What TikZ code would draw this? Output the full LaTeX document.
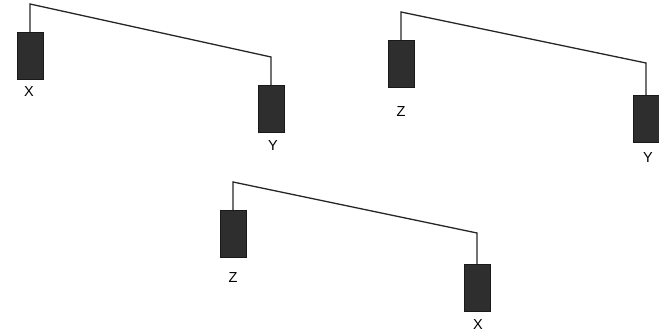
\documentclass[tikz,border=0pt]{standalone}
\usepackage{fontspec}
\setmainfont{Liberation Sans}
\begin{document}
\begin{tikzpicture}[x=1pt,y=-1pt,
  weight/.style={draw=black!90,fill=black!82,line width=0.8pt,minimum width=26pt,minimum height=47pt,inner sep=0pt,anchor=north},
  lab/.style={font=\fontsize{14.5}{16}\selectfont,inner sep=0pt},
  beam/.style={line width=1.3pt,black!85}]
\useasboundingbox (0,0) rectangle (659,334);
% figure 1
\node[weight] (x1) at (30,32) {};
\node[weight] (y1) at (271,85) {};
\node[lab] (lx1) at (29,92) {X};
\node[lab] (ly1) at (273,146) {Y};
\coordinate (a1) at (30,4);
\coordinate (b1) at (271,57);
\draw[beam] (x1.north) -- (a1) -- (b1) -- (y1.north);
% figure 2
\node[weight] (z2) at (401,40) {};
\node[weight] (y2) at (646,95) {};
\node[lab] (lz2) at (401,112) {Z};
\node[lab] (ly2) at (648,158) {Y};
\coordinate (a2) at (401,12);
\coordinate (b2) at (646,63);
\draw[beam] (z2.north) -- (a2) -- (b2) -- (y2.north);
% figure 3
\node[weight] (z3) at (233,210) {};
\node[weight] (x3) at (477,264) {};
\node[lab] (lz3) at (233,278) {Z};
\node[lab] (lx3) at (478,325) {X};
\coordinate (a3) at (233,182);
\coordinate (b3) at (477,233);
\draw[beam] (z3.north) -- (a3) -- (b3) -- (x3.north);
\end{tikzpicture}
\end{document}
